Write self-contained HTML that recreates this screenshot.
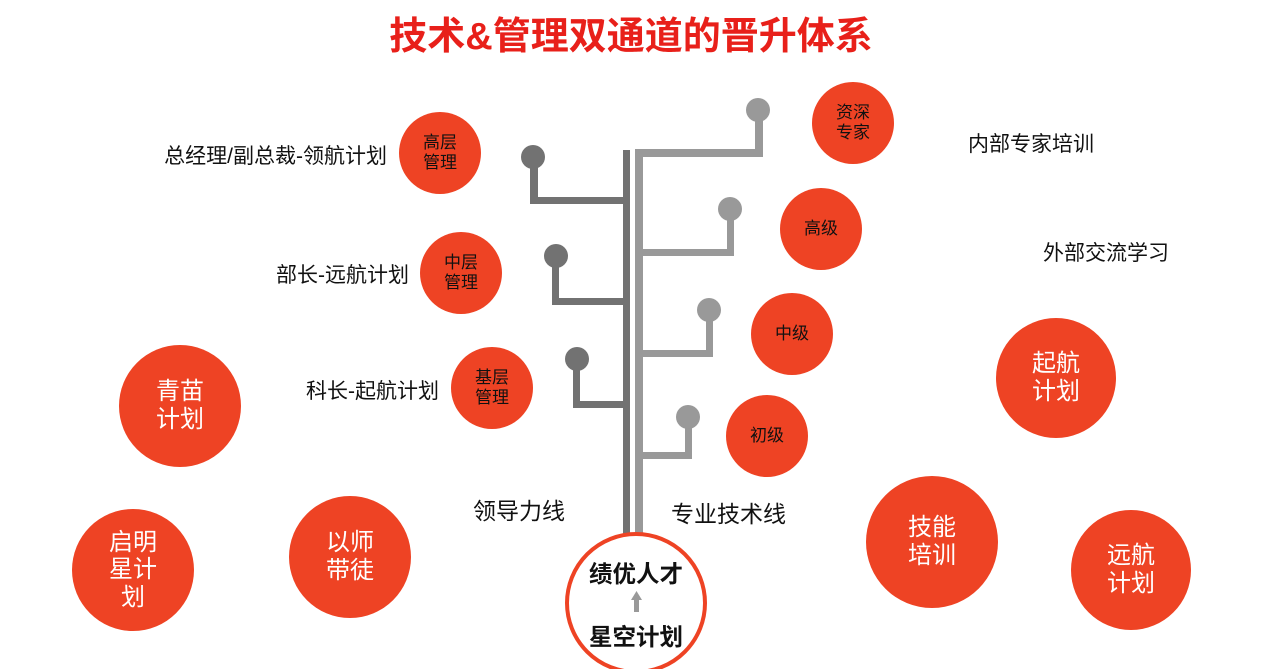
<!DOCTYPE html>
<html><head><meta charset="utf-8"><style>
body{margin:0;width:1262px;height:669px;background:#fff;position:relative;overflow:hidden;font-family:"Liberation Sans","Noto Sans CJK SC",sans-serif}
.t{position:absolute;white-space:nowrap;color:#111}
.c{position:absolute;border-radius:50%;background:#EE4324;display:flex;align-items:center;justify-content:center;text-align:center;color:#111;line-height:1.2}
.w{color:#fff;line-height:1.15}
</style></head><body>
<svg width="1262" height="669" style="position:absolute;left:0;top:0">
<g fill="#727272">
<rect x="623" y="150" width="7" height="390"/>
<rect x="530" y="197" width="100" height="7"/><rect x="530" y="157" width="8" height="47"/><circle cx="533" cy="157" r="12"/>
<rect x="552" y="298" width="78" height="7"/><rect x="552" y="256" width="7" height="49"/><circle cx="556" cy="256" r="12"/>
<rect x="573" y="401" width="57" height="7"/><rect x="573" y="359" width="7" height="49"/><circle cx="577" cy="359" r="12"/>
</g>
<g fill="#999">
<rect x="635" y="149" width="8" height="391"/>
<rect x="635" y="149" width="128" height="8"/><rect x="755" y="110" width="8" height="47"/><circle cx="758" cy="110" r="12"/>
<rect x="635" y="249" width="98" height="7"/><rect x="727" y="209" width="7" height="47"/><circle cx="730" cy="209" r="12"/>
<rect x="635" y="350" width="78" height="7"/><rect x="706" y="310" width="7" height="47"/><circle cx="709" cy="310" r="12"/>
<rect x="635" y="452" width="57" height="7"/><rect x="685" y="417" width="7" height="42"/><circle cx="688" cy="417" r="12"/>
</g>
<circle cx="636" cy="603" r="69" fill="#fff" stroke="#EE4324" stroke-width="4"/>
<rect x="634" y="598" width="5" height="14" fill="#999"/><polygon points="631,600 642,600 636.5,591" fill="#999"/>
</svg>
<div class="t" style="left:0;width:1262px;text-align:center;top:5px;font-size:38px;font-weight:bold;color:#E8201A">技术&amp;管理双通道的晋升体系</div>
<div class="t" style="right:875px;top:140px;font-size:21px">总经理/副总裁-领航计划</div>
<div class="t" style="right:853px;top:259px;font-size:21px">部长-远航计划</div>
<div class="t" style="right:823px;top:375px;font-size:21px">科长-起航计划</div>
<div class="t" style="left:968px;top:128px;font-size:21px">内部专家培训</div>
<div class="t" style="left:1043px;top:237px;font-size:21px">外部交流学习</div>
<div class="t" style="left:473px;top:492px;font-size:23px">领导力线</div>
<div class="t" style="left:671px;top:495px;font-size:23px">专业技术线</div>
<div class="t" style="left:566px;top:555px;width:140px;text-align:center;font-size:23.5px;font-weight:bold">绩优人才</div>
<div class="t" style="left:566px;top:618px;width:140px;text-align:center;font-size:23.5px;font-weight:bold">星空计划</div>
<div class="c" style="left:399px;top:112px;width:82px;height:82px;font-size:17px">高层<br>管理</div>
<div class="c" style="left:420px;top:232px;width:82px;height:82px;font-size:17px">中层<br>管理</div>
<div class="c" style="left:451px;top:347px;width:82px;height:82px;font-size:17px">基层<br>管理</div>
<div class="c" style="left:812px;top:82px;width:82px;height:82px;font-size:17px">资深<br>专家</div>
<div class="c" style="left:780px;top:188px;width:82px;height:82px;font-size:17px">高级</div>
<div class="c" style="left:751px;top:293px;width:82px;height:82px;font-size:17px">中级</div>
<div class="c" style="left:726px;top:395px;width:82px;height:82px;font-size:17px">初级</div>
<div class="c w" style="left:119px;top:345px;width:122px;height:122px;font-size:24px">青苗<br>计划</div>
<div class="c w" style="left:72px;top:509px;width:122px;height:122px;font-size:24px">启明<br>星计<br>划</div>
<div class="c w" style="left:289px;top:496px;width:122px;height:122px;font-size:24px">以师<br>带徒</div>
<div class="c w" style="left:996px;top:318px;width:120px;height:120px;font-size:24px">起航<br>计划</div>
<div class="c w" style="left:866px;top:476px;width:132px;height:132px;font-size:24px">技能<br>培训</div>
<div class="c w" style="left:1071px;top:510px;width:120px;height:120px;font-size:24px">远航<br>计划</div>
</body></html>
